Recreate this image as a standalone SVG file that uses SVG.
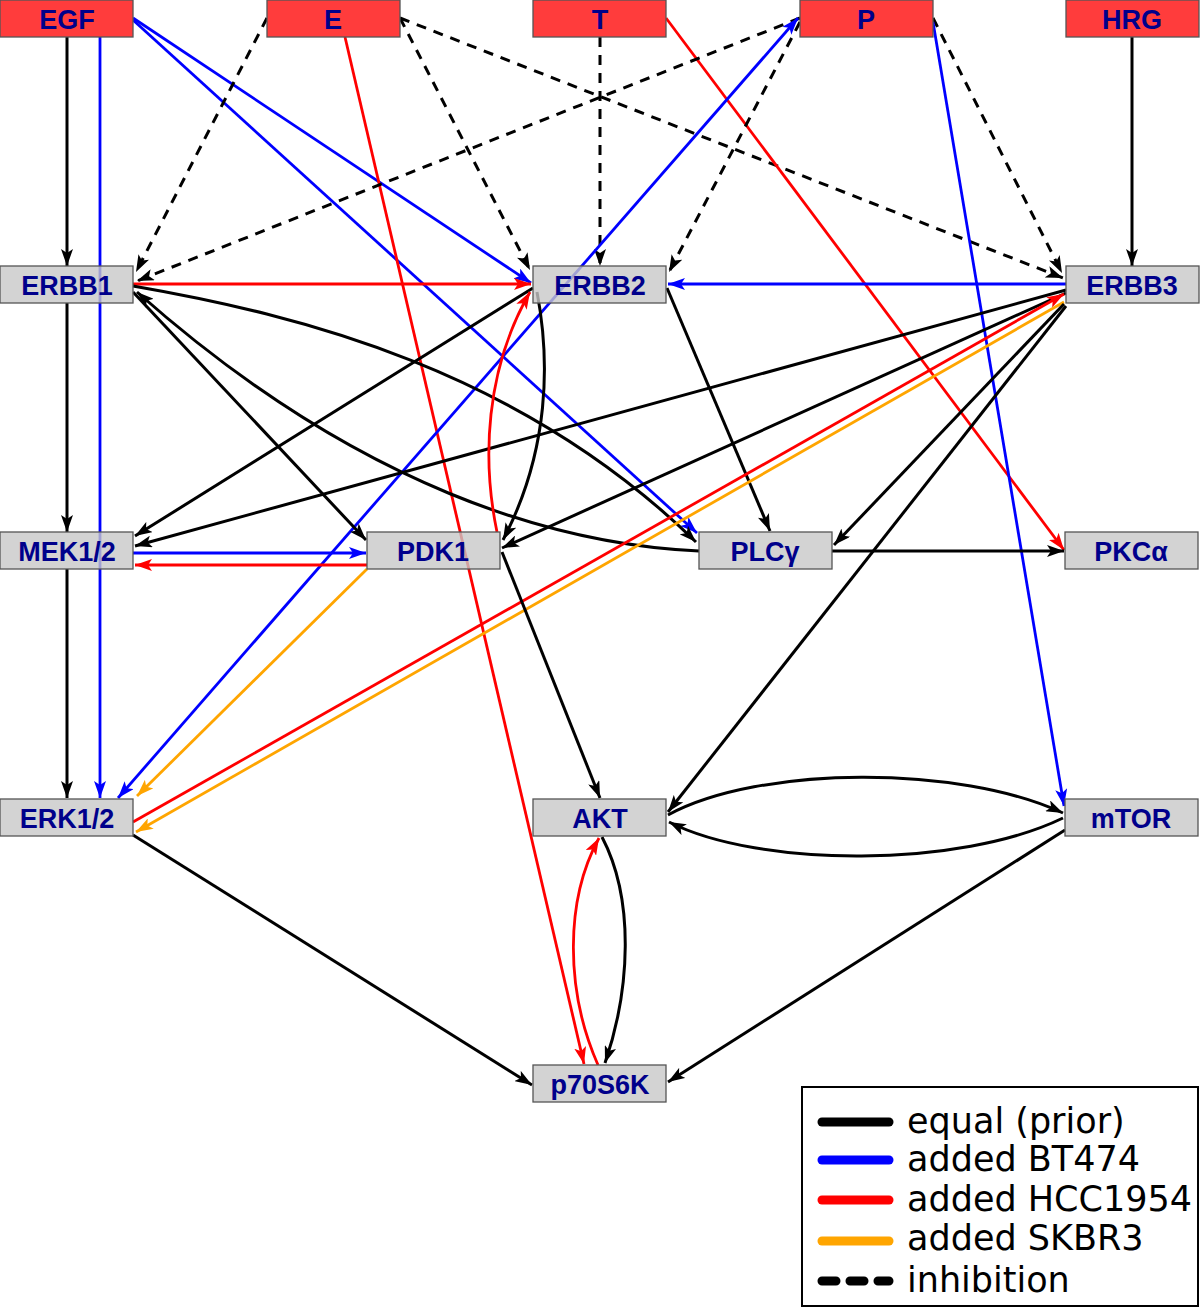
<svg xmlns="http://www.w3.org/2000/svg" width="1200" height="1308" viewBox="0 0 1200 1308">
<style>
.e{fill:none;stroke-width:2.8}
.k{stroke:#000;stroke-width:3}
.b{stroke:#0000ff}
.r{stroke:#ff0000}
.o{stroke:#ffa500}
.d{stroke-dasharray:10 8}
.src rect{fill:#ff3c3c;stroke:#555;stroke-width:1.3}
.prot rect{fill:#c8c8c8;fill-opacity:0.8;stroke:#555;stroke-width:1.3}
.lbl{font-family:"Liberation Sans",Arial,sans-serif;font-weight:bold;font-size:27px;fill:#00008b;text-anchor:middle}
.lg{font-family:"DejaVu Sans",sans-serif;font-size:35px;fill:#000}
.ll{stroke-width:9;stroke-linecap:round;fill:none}
</style>
<defs>
<marker id="ak" viewBox="0 0 17 12" refX="17" refY="6" markerWidth="17" markerHeight="12" markerUnits="userSpaceOnUse" orient="auto-start-reverse"><path d="M0,0 L17,6 L0,12 L4,6 z" fill="#000"/></marker>
<marker id="ab" viewBox="0 0 17 12" refX="17" refY="6" markerWidth="17" markerHeight="12" markerUnits="userSpaceOnUse" orient="auto-start-reverse"><path d="M0,0 L17,6 L0,12 L4,6 z" fill="#0000ff"/></marker>
<marker id="ar" viewBox="0 0 17 12" refX="17" refY="6" markerWidth="17" markerHeight="12" markerUnits="userSpaceOnUse" orient="auto-start-reverse"><path d="M0,0 L17,6 L0,12 L4,6 z" fill="#ff0000"/></marker>
<marker id="ao" viewBox="0 0 17 12" refX="17" refY="6" markerWidth="17" markerHeight="12" markerUnits="userSpaceOnUse" orient="auto-start-reverse"><path d="M0,0 L17,6 L0,12 L4,6 z" fill="#ffa500"/></marker>
</defs>
<rect width="1200" height="1308" fill="#fff"/>
<g id="connectors">
<path class="e k" marker-end="url(#ak)" d="M67,37 L67,266"/>
<path class="e b" marker-end="url(#ab)" d="M100,37 L100,798"/>
<path class="e b" marker-end="url(#ab)" d="M133,18 L531,283"/>
<path class="e b" marker-end="url(#ab)" d="M133,20 L697,533"/>
<path class="e k d" marker-end="url(#ak)" d="M267,18 L136,272"/>
<path class="e k d" marker-end="url(#ak)" d="M400,18 L530,270"/>
<path class="e k d" marker-end="url(#ak)" d="M400,18 L1063,278"/>
<path class="e r" marker-end="url(#ar)" d="M345,37 L584,1064"/>
<path class="e k d" marker-end="url(#ak)" d="M600,37 L600,266"/>
<path class="e r" marker-end="url(#ar)" d="M666,18 L1064,550"/>
<path class="e k d" marker-end="url(#ak)" d="M800,18 L137,281"/>
<path class="e k d" marker-end="url(#ak)" d="M800,22 L669,272"/>
<path class="e k d" marker-end="url(#ak)" d="M933,18 L1062,273"/>
<path class="e b" marker-end="url(#ab)" d="M933,22 L1064,806"/>
<path class="e b" marker-start="url(#ab)" marker-end="url(#ab)" d="M118,798 L798,18"/>
<path class="e k" marker-end="url(#ak)" d="M1132,37 L1132,266"/>
<path class="e k" marker-end="url(#ak)" d="M67,303 L67,532"/>
<path class="e r" marker-end="url(#ar)" d="M133,284 L531,284"/>
<path class="e k" marker-end="url(#ak)" d="M133,292 L366,540"/>
<path class="e k" marker-end="url(#ak)" d="M133,286 C300,315 520,370 696,542"/>
<path class="e k" marker-end="url(#ak)" d="M699,551 C560,545 360,490 137,292"/>
<path class="e k" marker-end="url(#ak)" d="M533,288 L135,536"/>
<path class="e k" marker-end="url(#ak)" d="M1066,290 L135,546"/>
<path class="e k" marker-end="url(#ak)" d="M537,292 C550,360 550,450 503,540"/>
<path class="e r" marker-end="url(#ar)" d="M497,532 C482,460 485,370 530,292"/>
<path class="e k" marker-end="url(#ak)" d="M667,288 L770,531"/>
<path class="e b" marker-end="url(#ab)" d="M1066,284 L668,284"/>
<path class="e k" marker-end="url(#ak)" d="M1066,293 L502,548"/>
<path class="e r" marker-end="url(#ar)" d="M133,822 L1064,294"/>
<path class="e o" marker-end="url(#ao)" d="M1064,302 L136,832"/>
<path class="e k" marker-end="url(#ak)" d="M1064,304 L834,545"/>
<path class="e k" marker-end="url(#ak)" d="M1066,306 L668,812"/>
<path class="e b" marker-end="url(#ab)" d="M133,553 L366,553"/>
<path class="e r" marker-end="url(#ar)" d="M367,565 L135,565"/>
<path class="e k" marker-end="url(#ak)" d="M67,569 L67,798"/>
<path class="e o" marker-end="url(#ao)" d="M367,569 L137,796"/>
<path class="e k" marker-end="url(#ak)" d="M502,552 L600,798"/>
<path class="e k" marker-end="url(#ak)" d="M832,551 L1064,551"/>
<path class="e k" marker-end="url(#ak)" d="M668,815 C760,765 960,765 1063,813"/>
<path class="e k" marker-end="url(#ak)" d="M1063,818 C960,868 760,868 669,822"/>
<path class="e k" marker-end="url(#ak)" d="M602,837 C635,900 630,990 605,1063"/>
<path class="e r" marker-end="url(#ar)" d="M598,1065 C565,990 565,900 599,838"/>
<path class="e k" marker-end="url(#ak)" d="M133,835 L532,1085"/>
<path class="e k" marker-end="url(#ak)" d="M1065,830 L668,1082"/>
</g>
<g id="EGF" class="src"><rect x="0" y="0" width="133" height="37"/><text class="lbl" x="67" y="29">EGF</text></g>
<g id="E" class="src"><rect x="267" y="0" width="133" height="37"/><text class="lbl" x="333" y="29">E</text></g>
<g id="T" class="src"><rect x="533" y="0" width="133" height="37"/><text class="lbl" x="600" y="29">T</text></g>
<g id="P" class="src"><rect x="800" y="0" width="133" height="37"/><text class="lbl" x="866" y="29">P</text></g>
<g id="HRG" class="src"><rect x="1066" y="0" width="133" height="37"/><text class="lbl" x="1132" y="29">HRG</text></g>
<g id="ERBB1" class="prot"><rect x="0" y="266" width="133" height="37"/><text class="lbl" x="67" y="295">ERBB1</text></g>
<g id="ERBB2" class="prot"><rect x="533" y="266" width="133" height="37"/><text class="lbl" x="600" y="295">ERBB2</text></g>
<g id="ERBB3" class="prot"><rect x="1066" y="266" width="133" height="37"/><text class="lbl" x="1132" y="295">ERBB3</text></g>
<g id="MEK12" class="prot"><rect x="0" y="532" width="133" height="37"/><text class="lbl" x="67" y="561">MEK1/2</text></g>
<g id="PDK1" class="prot"><rect x="367" y="532" width="133" height="37"/><text class="lbl" x="433" y="561">PDK1</text></g>
<g id="PLCg" class="prot"><rect x="699" y="532" width="133" height="37"/><text class="lbl" x="765" y="561">PLCγ</text></g>
<g id="PKCa" class="prot"><rect x="1065" y="532" width="133" height="37"/><text class="lbl" x="1131" y="561">PKCα</text></g>
<g id="ERK12" class="prot"><rect x="0" y="799" width="133" height="37"/><text class="lbl" x="67" y="828">ERK1/2</text></g>
<g id="AKT" class="prot"><rect x="533" y="799" width="133" height="37"/><text class="lbl" x="600" y="828">AKT</text></g>
<g id="mTOR" class="prot"><rect x="1065" y="799" width="133" height="37"/><text class="lbl" x="1131" y="828">mTOR</text></g>
<g id="p70S6K" class="prot"><rect x="533" y="1065" width="133" height="37"/><text class="lbl" x="600" y="1094">p70S6K</text></g>
<g id="legend">
<rect x="802" y="1087" width="396" height="219" fill="#fff" stroke="#000" stroke-width="2"/>
<line class="ll" x1="822" y1="1122" x2="889" y2="1122" stroke="#000"/>
<line class="ll" x1="822" y1="1160" x2="889" y2="1160" stroke="#0000ff"/>
<line class="ll" x1="822" y1="1200" x2="889" y2="1200" stroke="#ff0000"/>
<line class="ll" x1="822" y1="1241" x2="889" y2="1241" stroke="#ffa500"/>
<line class="ll" x1="822" y1="1281" x2="889" y2="1281" stroke="#000" stroke-dasharray="14 14"/>
<text class="lg" x="907" y="1133">equal (prior)</text>
<text class="lg" x="907" y="1171">added BT474</text>
<text class="lg" x="907" y="1211">added HCC1954</text>
<text class="lg" x="907" y="1250">added SKBR3</text>
<text class="lg" x="907" y="1292">inhibition</text>
</g>
</svg>
